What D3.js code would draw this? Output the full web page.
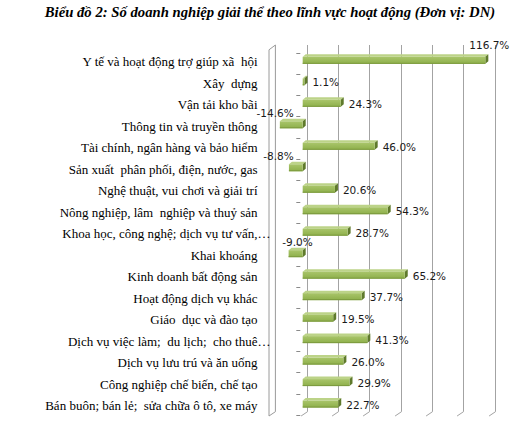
<!DOCTYPE html>
<html>
<head>
<meta charset="utf-8">
<script src="https://cdn.jsdelivr.net/npm/d3@7"></script>
<style>
  html, body { margin: 0; padding: 0; background: #fff; }
  svg { display: block; }
  text { white-space: pre; }
</style>
</head>
<body>
<script>
// ---- data ----
const title = "Biểu đồ 2: Số doanh nghiệp giải thể theo lĩnh vực hoạt động (Đơn vị: DN)";
const categories = [
  "Y tế và hoạt động trợ giúp xã  hội",
  "Xây  dựng",
  "Vận tải kho bãi",
  "Thông tin và truyền thông",
  "Tài chính, ngân hàng và bảo hiểm",
  "Sản xuất  phân phối, điện, nước, gas",
  "Nghệ thuật, vui chơi và giải trí",
  "Nông nghiệp, lâm  nghiệp và thuỷ sản",
  "Khoa học, công nghệ; dịch vụ tư vấn,…",
  "Khai khoáng",
  "Kinh doanh bất động sản",
  "Hoạt động dịch vụ khác",
  "Giáo  dục và đào tạo",
  "Dịch vụ việc làm;  du lịch;  cho thuê…",
  "Dịch vụ lưu trú và ăn uống",
  "Công nghiệp chế biến, chế tạo",
  "Bán buôn; bán lẻ;  sửa chữa ô tô, xe máy"
];
const values = [116.7, 1.1, 24.3, -14.6, 46.0, -8.8, 20.6, 54.3, 28.7, -9.0, 65.2, 37.7, 19.5, 41.3, 26.0, 29.9, 22.7];
const axisTicks = [-20, 0, 20, 40, 60, 80, 100, 120];

// ---- layout ----
const W = 525, H = 426;
const svg = d3.select("body").append("svg").attr("width", W).attr("height", H);

const depthX = 6.4, depthY = 4.3;           // 3D offset back -> front
const x = d3.scaleLinear().domain([-20, 120]).range([275.4, 494.5]); // back wall
const yBack = d3.scaleBand().domain(categories).range([49.1, 414.3]);
const yFront = d3.scaleBand().domain(categories).range([52.5, 415]);
const backTop = 45, backBottom = 411.7;
const barShift = 4;                           // bar zero plane between front & back
const xb = v => x(v) - barShift;

// defs: gradient for bar front
const defs = svg.append("defs");
const g1 = defs.append("linearGradient").attr("id", "barFront").attr("x1", 0).attr("y1", 0).attr("x2", 0).attr("y2", 1);
g1.append("stop").attr("offset", "0%").attr("stop-color", "#a9c56a");
g1.append("stop").attr("offset", "100%").attr("stop-color", "#8daf4a");

// title
svg.append("text")
  .attr("x", 270).attr("y", 17)
  .attr("text-anchor", "middle")
  .attr("font-family", "Liberation Serif, Times New Roman, serif")
  .attr("font-weight", "bold").attr("font-style", "italic")
  .attr("font-size", 14.7)
  .attr("fill", "#000")
  .text(title);

// left wall
const wx0 = x(-20);
svg.append("path")
  .attr("d", `M${wx0 - depthX},${backTop + depthY + 0.5} L${wx0},${backTop} L${wx0},${backBottom} L${wx0 - depthX},${backBottom + depthY} Z`)
  .attr("fill", "#fff").attr("stroke", "#9a9a9a").attr("stroke-width", 1);

// gridlines (back wall + floor diagonals)
const grid = svg.append("g").attr("stroke", "#a3a3a3").attr("stroke-width", 1).attr("fill", "none");
axisTicks.filter(t => t > -20).forEach(t => {
  const gx = Math.round(x(t)) + 0.5;
  grid.append("path")
    .attr("d", `M${gx},${backTop} L${gx},${backBottom} L${gx - depthX},${backBottom + depthY}`);
});

// category tick marks on the front zero line
const tickX = x(0) - depthX;
const tickYs = categories.map(c => yFront(c)).concat([yFront.range()[1]]);
svg.append("g").selectAll("line").data(tickYs).join("line")
  .attr("x1", tickX - 4).attr("x2", tickX)
  .attr("y1", d => Math.round(d) + 0.5).attr("y2", d => Math.round(d) + 0.5)
  .attr("stroke", "#8a8a8a").attr("stroke-width", 1);

// bars
const frontH = 7, topH = 2.5, sideW = 3;
const bars = svg.append("g");
categories.forEach((c, i) => {
  const v = values[i];
  const cy = yBack(c) + yBack.bandwidth() / 2;
  const x0 = Math.min(xb(0), xb(v)), x1 = Math.max(xb(0), xb(v));
  const fy0 = cy - 3, fy1 = fy0 + frontH;
  // top face
  bars.append("path")
    .attr("d", `M${x0},${fy0} L${x0 + sideW},${fy0 - topH} L${x1 + sideW},${fy0 - topH} L${x1},${fy0} Z`)
    .attr("fill", "#bcd388");
  // side face (right end)
  bars.append("path")
    .attr("d", `M${x1},${fy0} L${x1 + sideW},${fy0 - topH} L${x1 + sideW},${fy1 - topH} L${x1},${fy1} Z`)
    .attr("fill", "#5f7a2c");
  // front face
  bars.append("rect")
    .attr("x", x0).attr("y", fy0).attr("width", Math.max(0.5, x1 - x0)).attr("height", frontH)
    .attr("fill", "url(#barFront)");
  bars.append("line")
    .attr("x1", x0).attr("x2", x1).attr("y1", fy1 - 0.5).attr("y2", fy1 - 0.5)
    .attr("stroke", "#7c9a3e").attr("stroke-width", 1);
});

// value labels
const labelShift = { "Khai khoáng": 19 };   // manual nudge as in reference
const fmt = v => v.toFixed(1) + "%";
const vl = svg.append("g")
  .attr("font-family", "DejaVu Sans, Verdana, sans-serif")
  .attr("font-size", 10.5).attr("fill", "#1a1a1a");
categories.forEach((c, i) => {
  const v = values[i];
  const cy = yBack(c) + yBack.bandwidth() / 2;
  if (v < 0) {
    vl.append("text")
      .attr("x", xb(0) - 9 + (labelShift[c] || 0)).attr("y", cy - 7.5)
      .attr("text-anchor", "end").text(fmt(v));
  } else {
    const end = xb(v) + sideW;
    if (end + 50 > W) {
      vl.append("text")
        .attr("x", end + 1).attr("y", cy - 11)
        .attr("text-anchor", "middle").text(fmt(v));
    } else {
      vl.append("text")
        .attr("x", end + 5).attr("y", cy + 5)
        .attr("text-anchor", "start").text(fmt(v));
    }
  }
});

// category labels
const cl = svg.append("g")
  .attr("font-family", "Liberation Serif, Times New Roman, serif")
  .attr("font-size", 13).attr("fill", "#000");
const labelRight = 257.5;
categories.forEach(c => {
  const cy = yBack(c) + yBack.bandwidth() / 2 + 6.5;
  if (c.endsWith("…")) {
    cl.append("text").attr("x", labelRight).attr("y", cy).attr("text-anchor", "end").text(c.slice(0, -1));
    cl.append("text").attr("x", labelRight).attr("y", cy).attr("text-anchor", "start").text("…");
  } else {
    cl.append("text").attr("x", labelRight).attr("y", cy).attr("text-anchor", "end").text(c);
  }
});
</script>
</body>
</html>
